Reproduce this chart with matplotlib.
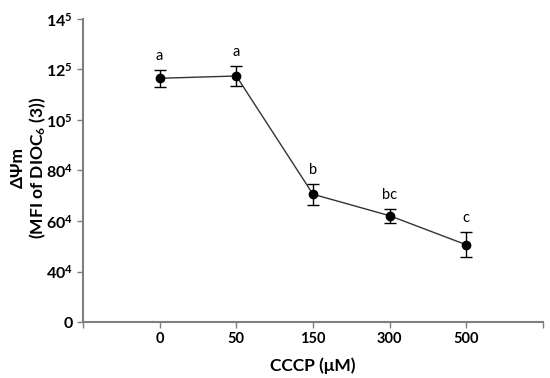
import matplotlib
matplotlib.use("Agg")
import matplotlib.pyplot as plt

plt.rcParams['font.family'] = ['Lato', 'DejaVu Sans']
plt.rcParams['mathtext.fontset'] = 'custom'
plt.rcParams['mathtext.rm'] = 'Lato:bold'
plt.rcParams['mathtext.bf'] = 'Lato:bold'
plt.rcParams['mathtext.it'] = 'Lato:bold'

categories = ["0", "50", "150", "300", "500"]
values = [116500, 117400, 70600, 62100, 50600]
errors = [3400, 3800, 4100, 2700, 4900]
letters = ["a", "a", "b", "bc", "c"]
ytick_values = [20000, 40000, 60000, 80000, 100000, 120000, 140000]
ytick_labels = ["0", r"$\mathbf{40^{4}}$", r"$\mathbf{60^{4}}$", r"$\mathbf{80^{4}}$",
                r"$\mathbf{10^{5}}$", r"$\mathbf{12^{5}}$", r"$\mathbf{14^{5}}$"]

fig = plt.figure(figsize=(5.5, 3.78), dpi=100)
ax = fig.add_axes([0.151, 0.148, 0.836, 0.802])

x = list(range(1, len(categories) + 1))
ax.errorbar(x, values, yerr=errors, fmt='o', color='black', ecolor='black',
            markersize=6, capsize=4, elinewidth=1, capthick=1, zorder=3)
ax.plot(x, values, color='#333333', linewidth=1, zorder=2)

for xi, v, e, lab in zip(x, values, errors, letters):
    ax.annotate(lab, (xi, v + e), xytext=(0, 5), textcoords='offset points',
                ha='center', va='bottom', fontsize=10.5, color='black')

ax.set_xlim(0, 6)
ax.set_ylim(20000, 140000)
ax.set_xticks([0] + x + [6])
ax.set_xticklabels([""] + categories + [""], fontweight='bold', fontsize=10.5)
ax.set_yticks(ytick_values)
ax.set_yticklabels(ytick_labels, fontweight='bold', fontsize=11.5)

for s in ['top', 'right']:
    ax.spines[s].set_visible(False)
for s in ['left', 'bottom']:
    ax.spines[s].set_color('#7f7f7f')
    ax.spines[s].set_linewidth(1.5)
ax.tick_params(axis='both', colors='#7f7f7f', labelcolor='black', length=4, width=1)

ax.set_xlabel("CCCP (μM)", fontweight='bold', fontsize=12.5, labelpad=8)
fig.text(29 / 550, 1 - 168 / 378, "ΔΨm\n(MFI of DIOC$_6$ (3))", fontweight='bold',
         fontsize=12.5, rotation=90, ha='center', va='center', ma='center',
         linespacing=1.1)

fig.savefig("out.png", dpi=100)
